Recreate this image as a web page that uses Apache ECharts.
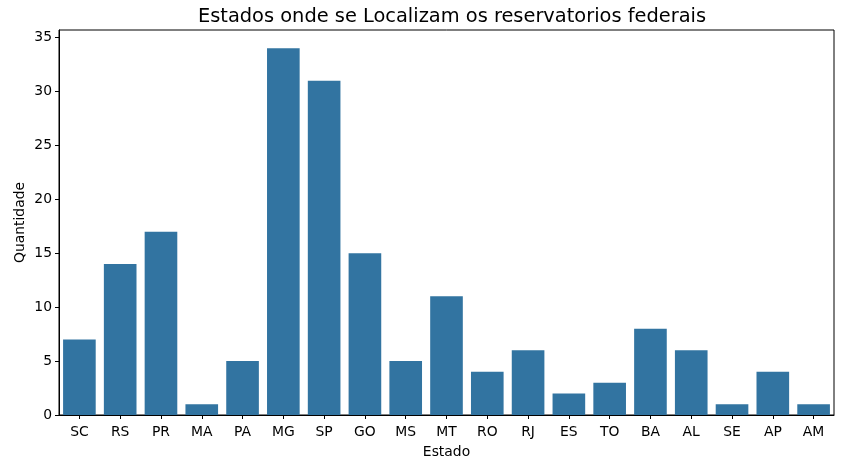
<!DOCTYPE html>
<html><head><meta charset="utf-8">
<script src="https://cdn.jsdelivr.net/npm/echarts@6/dist/echarts.min.js"></script>
<style>html,body{margin:0;padding:0;background:#fff}#c{width:844px;height:467px}</style>
</head><body><div id="c"></div>
<script>
const categories = ['SC','RS','PR','MA','PA','MG','SP','GO','MS','MT','RO','RJ','ES','TO','BA','AL','SE','AP','AM'];
const values = [7,14,17,1,5,34,31,15,5,11,4,6,2,3,8,6,1,4,1];
const titleText = 'Estados onde se Localizam os reservatorios federais';
const xName = 'Estado';
const yName = 'Quantidade';

const chart = echarts.init(document.getElementById('c'), null, {renderer:'canvas'});
const font = 'DejaVu Sans';
chart.setOption({
  animation:false,
  backgroundColor:'#fff',
  title:{text:titleText,left:447,top:2,textAlign:'center',textStyle:{fontFamily:font,fontSize:19.4,fontWeight:'normal',color:'#000'}},
  grid:{left:59,right:10,top:30,bottom:52,outerBoundsMode:'none',containLabel:false,show:true,borderColor:'#000',borderWidth:1,backgroundColor:'transparent'},
  xAxis:{type:'category',data:categories,name:xName,nameLocation:'middle',nameGap:30,nameMoveOverlap:false,
    nameTextStyle:{fontFamily:font,fontSize:13.9,color:'#000'},
    axisLine:{show:true,lineStyle:{color:'#000',width:1}},
    axisTick:{show:true,alignWithLabel:true,length:4,lineStyle:{color:'#000'}},
    axisLabel:{fontFamily:font,fontSize:13.9,color:'#000',margin:10}},
  yAxis:{type:'value',min:0,max:35.7,interval:5,name:yName,nameLocation:'middle',nameGap:32,nameMoveOverlap:false,
    nameTextStyle:{fontFamily:font,fontSize:13.9,color:'#000'},
    splitLine:{show:false},
    axisLine:{show:true,lineStyle:{color:'#000',width:1}},
    axisTick:{show:true,length:4,lineStyle:{color:'#000'}},
    axisLabel:{fontFamily:font,fontSize:13.9,color:'#000',margin:7,showMaxLabel:false}},
  series:[{type:'bar',data:values,barCategoryGap:'20%',itemStyle:{color:'#3274a1'}}]
});
</script></body></html>
